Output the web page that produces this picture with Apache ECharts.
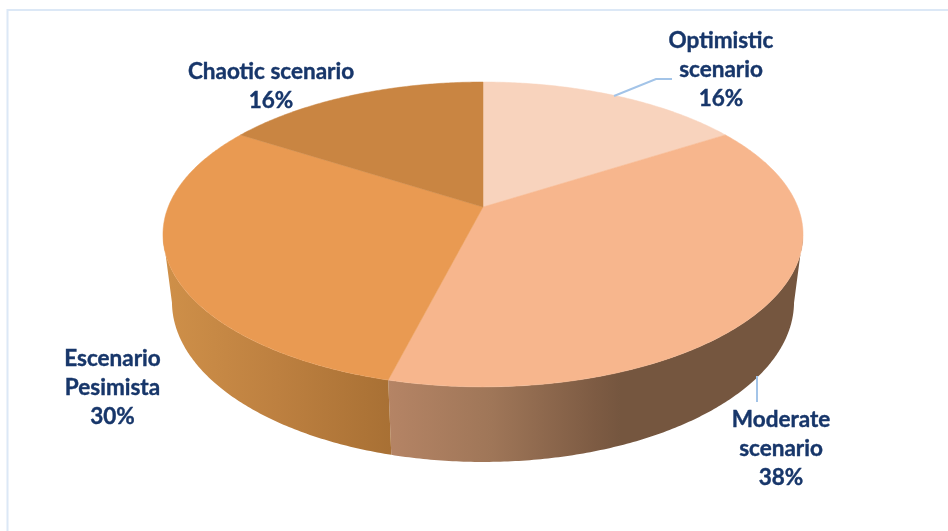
<!DOCTYPE html>
<html>
<head>
<meta charset="utf-8">
<style>html,body{margin:0;padding:0;background:#fff}#c{width:948px;height:531px}</style>
<script src="https://cdn.jsdelivr.net/npm/echarts@6/dist/echarts.min.js"></script>
</head>
<body>
<div id="c"></div>
<script>
const categories = ['Optimistic\nscenario', 'Moderate\nscenario', 'Escenario\nPesimista', 'Chaotic scenario'];
const shares = [16, 38, 30, 16];
const topColors = ['#f8d3bd', '#f7b68d', '#e99a52', '#c98542'];
const wallStops = [
  [[0, '#f8d3bd'], [1, '#f8d3bd']],
  [[0, '#b58465'], [0.25, '#9f7658'], [0.5, '#7d5b43'], [0.56, '#75563f'], [1, '#75563f']],
  [[0, '#cf9049'], [0.5, '#bd8040'], [1, '#a87034']],
  [[0, '#c98542'], [1, '#c98542']]
];
const labelPos = [[721, 70], [781, 449], [112.5, 388], [271, 86]];
const leaders = [
  [[614, 96], [656, 79], [672, 79]],
  [[757, 376], [757, 402]]
];

// perspective camera for the tilted disc; depth 0 is the top face, depth 1 the bottom rim
const CX = 483, CY = 207, A = 314.8, B = 147.5, K = 0.18, M = 0.028, H = 68.7;
function project(theta, depth) {
  const X = Math.sin(theta), Y = Math.cos(theta);
  const w = 1 + K * Y + M * depth;
  return [CX + A * X / w, CY - (B * Y - H * depth) / w];
}
const total = shares.reduce((a, b) => a + b, 0);
function startAngle(i) {
  let s = 0;
  for (let j = 0; j < i; j++) s += shares[j];
  return s / total * Math.PI * 2;
}
function arc(a0, a1, depth) {
  const n = Math.max(2, Math.ceil((a1 - a0) / 0.01));
  const pts = [];
  for (let i = 0; i <= n; i++) pts.push(project(a0 + (a1 - a0) * i / n, depth));
  return pts;
}
function wallRange(a0, a1) {
  // the visible rim runs between the two silhouette angles of the disc
  const lo = Math.acos(-K), hi = Math.PI * 2 - lo;
  return [Math.max(a0, lo), Math.min(a1, hi)];
}
const rows = shares.map((v, i) => ({name: categories[i], value: [i, v]}));

const chart = echarts.init(document.getElementById('c'), null, {renderer: 'canvas'});
chart.setOption({
  animation: false,
  backgroundColor: '#ffffff',
  graphic: [{
    type: 'polyline', silent: true,
    shape: {points: [[7.5, 531], [7.5, 10], [948, 10]]},
    style: {stroke: '#dce8f6', lineWidth: 2, fill: null}
  }].concat(leaders.map(p => ({
    type: 'polyline', silent: true, z: 5,
    shape: {points: p},
    style: {stroke: '#a3c4e8', lineWidth: 2, fill: null}
  }))),
  series: [
    {
      type: 'custom', coordinateSystem: 'none', z: 1, silent: true,
      data: rows,
      renderItem: function (params, api) {
        const i = api.value(0);
        const a0 = startAngle(i), a1 = a0 + api.value(1) / total * Math.PI * 2;
        const r = wallRange(a0, a1);
        if (r[1] <= r[0]) return {type: 'group', children: []};
        const pts = arc(r[0], r[1], 0).concat(arc(r[0], r[1], 1).reverse());
        return {
          type: 'polygon',
          shape: {points: pts},
          style: {
            fill: new echarts.graphic.LinearGradient(0, 0, 1, 0,
              wallStops[i].map(s => ({offset: s[0], color: s[1]})))
          }
        };
      }
    },
    {
      type: 'custom', coordinateSystem: 'none', z: 2, silent: true,
      data: rows,
      renderItem: function (params, api) {
        const i = api.value(0);
        const a0 = startAngle(i), a1 = a0 + api.value(1) / total * Math.PI * 2;
        const pts = [[CX, CY]].concat(arc(a0, a1, 0));
        return {
          type: 'polygon',
          shape: {points: pts},
          style: {fill: topColors[i], stroke: topColors[i], lineWidth: 0.5}
        };
      }
    },
    {
      type: 'custom', coordinateSystem: 'none', z: 3, silent: true,
      data: rows,
      renderItem: function (params, api) {
        const i = api.value(0);
        return {
          type: 'text',
          x: labelPos[i][0], y: labelPos[i][1],
          style: {
            text: categories[i] + '\n' + api.value(1) + '%',
            fill: '#17366a',
            stroke: '#17366a',
            lineWidth: 0.4,
            font: 'bold 22.5px Lato',
            lineHeight: 29,
            align: 'center',
            verticalAlign: 'middle'
          }
        };
      }
    }
  ]
});
</script>
</body>
</html>
